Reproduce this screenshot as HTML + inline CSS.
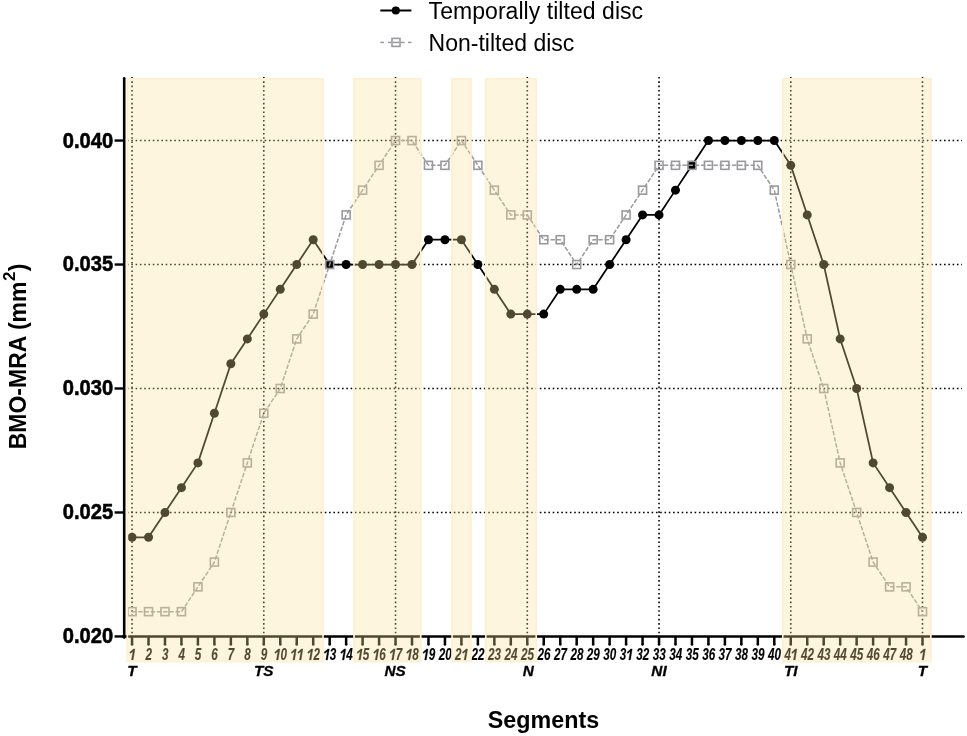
<!DOCTYPE html>
<html><head><meta charset="utf-8"><style>
html,body{margin:0;padding:0;background:#fff;overflow:hidden;}
svg{display:block;will-change:transform;}
text{font-family:"Liberation Sans",sans-serif;fill:#000;}
.xt{font-size:15.8px;font-weight:bold;font-style:italic;stroke:#000;stroke-width:0.15px;text-anchor:middle;}
.rl{font-size:15.3px;stroke:#000;stroke-width:0.3px;font-weight:bold;font-style:italic;text-anchor:middle;}
.yt{font-size:22.5px;font-weight:bold;stroke:#000;stroke-width:0.6px;text-anchor:end;}
.yti{font-size:23px;font-weight:bold;}
.xti{font-size:23.3px;font-weight:bold;text-anchor:middle;}
.lg{font-size:23px;}
</style></head>
<body><svg width="967" height="736" viewBox="0 0 967 736">
<rect x="0" y="0" width="967" height="736" fill="#fff"/>
<line x1="127" y1="140.55" x2="962" y2="140.55" stroke="#000" stroke-width="1.6" stroke-dasharray="1.6 2.7"/>
<line x1="127" y1="264.53" x2="962" y2="264.53" stroke="#000" stroke-width="1.6" stroke-dasharray="1.6 2.7"/>
<line x1="127" y1="388.50" x2="962" y2="388.50" stroke="#000" stroke-width="1.6" stroke-dasharray="1.6 2.7"/>
<line x1="127" y1="512.48" x2="962" y2="512.48" stroke="#000" stroke-width="1.6" stroke-dasharray="1.6 2.7"/>
<line x1="132.05" y1="77" x2="132.05" y2="635" stroke="#000" stroke-width="1.6" stroke-dasharray="1.6 2.7"/>
<line x1="263.79" y1="77" x2="263.79" y2="635" stroke="#000" stroke-width="1.6" stroke-dasharray="1.6 2.7"/>
<line x1="395.54" y1="77" x2="395.54" y2="635" stroke="#000" stroke-width="1.6" stroke-dasharray="1.6 2.7"/>
<line x1="527.28" y1="77" x2="527.28" y2="635" stroke="#000" stroke-width="1.6" stroke-dasharray="1.6 2.7"/>
<line x1="659.03" y1="77" x2="659.03" y2="635" stroke="#000" stroke-width="1.6" stroke-dasharray="1.6 2.7"/>
<line x1="790.77" y1="77" x2="790.77" y2="635" stroke="#000" stroke-width="1.6" stroke-dasharray="1.6 2.7"/>
<line x1="922.51" y1="77" x2="922.51" y2="635" stroke="#000" stroke-width="1.6" stroke-dasharray="1.6 2.7"/>
<line x1="124.2" y1="78.2" x2="124.2" y2="637.6" stroke="#000" stroke-width="2.6" stroke-linecap="round"/>
<line x1="123" y1="636.4" x2="963.6" y2="636.4" stroke="#000" stroke-width="2.5" stroke-linecap="round"/>
<line x1="114.6" y1="140.55" x2="124" y2="140.55" stroke="#000" stroke-width="2.4"/>
<line x1="114.6" y1="264.53" x2="124" y2="264.53" stroke="#000" stroke-width="2.4"/>
<line x1="114.6" y1="388.50" x2="124" y2="388.50" stroke="#000" stroke-width="2.4"/>
<line x1="114.6" y1="512.48" x2="124" y2="512.48" stroke="#000" stroke-width="2.4"/>
<line x1="114.6" y1="636.45" x2="124" y2="636.45" stroke="#000" stroke-width="2.4"/>
<line x1="132.05" y1="636" x2="132.05" y2="644.6" stroke="#000" stroke-width="2.5" />
<circle cx="132.05" cy="644.6" r="1.25" fill="#000"/>
<line x1="148.52" y1="636" x2="148.52" y2="644.6" stroke="#000" stroke-width="2.5" />
<circle cx="148.52" cy="644.6" r="1.25" fill="#000"/>
<line x1="164.99" y1="636" x2="164.99" y2="644.6" stroke="#000" stroke-width="2.5" />
<circle cx="164.99" cy="644.6" r="1.25" fill="#000"/>
<line x1="181.45" y1="636" x2="181.45" y2="644.6" stroke="#000" stroke-width="2.5" />
<circle cx="181.45" cy="644.6" r="1.25" fill="#000"/>
<line x1="197.92" y1="636" x2="197.92" y2="644.6" stroke="#000" stroke-width="2.5" />
<circle cx="197.92" cy="644.6" r="1.25" fill="#000"/>
<line x1="214.39" y1="636" x2="214.39" y2="644.6" stroke="#000" stroke-width="2.5" />
<circle cx="214.39" cy="644.6" r="1.25" fill="#000"/>
<line x1="230.86" y1="636" x2="230.86" y2="644.6" stroke="#000" stroke-width="2.5" />
<circle cx="230.86" cy="644.6" r="1.25" fill="#000"/>
<line x1="247.33" y1="636" x2="247.33" y2="644.6" stroke="#000" stroke-width="2.5" />
<circle cx="247.33" cy="644.6" r="1.25" fill="#000"/>
<line x1="263.79" y1="636" x2="263.79" y2="644.6" stroke="#000" stroke-width="2.5" />
<circle cx="263.79" cy="644.6" r="1.25" fill="#000"/>
<line x1="280.26" y1="636" x2="280.26" y2="644.6" stroke="#000" stroke-width="2.5" />
<circle cx="280.26" cy="644.6" r="1.25" fill="#000"/>
<line x1="296.73" y1="636" x2="296.73" y2="644.6" stroke="#000" stroke-width="2.5" />
<circle cx="296.73" cy="644.6" r="1.25" fill="#000"/>
<line x1="313.20" y1="636" x2="313.20" y2="644.6" stroke="#000" stroke-width="2.5" />
<circle cx="313.20" cy="644.6" r="1.25" fill="#000"/>
<line x1="329.67" y1="636" x2="329.67" y2="644.6" stroke="#000" stroke-width="2.5" />
<circle cx="329.67" cy="644.6" r="1.25" fill="#000"/>
<line x1="346.13" y1="636" x2="346.13" y2="644.6" stroke="#000" stroke-width="2.5" />
<circle cx="346.13" cy="644.6" r="1.25" fill="#000"/>
<line x1="362.60" y1="636" x2="362.60" y2="644.6" stroke="#000" stroke-width="2.5" />
<circle cx="362.60" cy="644.6" r="1.25" fill="#000"/>
<line x1="379.07" y1="636" x2="379.07" y2="644.6" stroke="#000" stroke-width="2.5" />
<circle cx="379.07" cy="644.6" r="1.25" fill="#000"/>
<line x1="395.54" y1="636" x2="395.54" y2="644.6" stroke="#000" stroke-width="2.5" />
<circle cx="395.54" cy="644.6" r="1.25" fill="#000"/>
<line x1="412.01" y1="636" x2="412.01" y2="644.6" stroke="#000" stroke-width="2.5" />
<circle cx="412.01" cy="644.6" r="1.25" fill="#000"/>
<line x1="428.47" y1="636" x2="428.47" y2="644.6" stroke="#000" stroke-width="2.5" />
<circle cx="428.47" cy="644.6" r="1.25" fill="#000"/>
<line x1="444.94" y1="636" x2="444.94" y2="644.6" stroke="#000" stroke-width="2.5" />
<circle cx="444.94" cy="644.6" r="1.25" fill="#000"/>
<line x1="461.41" y1="636" x2="461.41" y2="644.6" stroke="#000" stroke-width="2.5" />
<circle cx="461.41" cy="644.6" r="1.25" fill="#000"/>
<line x1="477.88" y1="636" x2="477.88" y2="644.6" stroke="#000" stroke-width="2.5" />
<circle cx="477.88" cy="644.6" r="1.25" fill="#000"/>
<line x1="494.35" y1="636" x2="494.35" y2="644.6" stroke="#000" stroke-width="2.5" />
<circle cx="494.35" cy="644.6" r="1.25" fill="#000"/>
<line x1="510.81" y1="636" x2="510.81" y2="644.6" stroke="#000" stroke-width="2.5" />
<circle cx="510.81" cy="644.6" r="1.25" fill="#000"/>
<line x1="527.28" y1="636" x2="527.28" y2="644.6" stroke="#000" stroke-width="2.5" />
<circle cx="527.28" cy="644.6" r="1.25" fill="#000"/>
<line x1="543.75" y1="636" x2="543.75" y2="644.6" stroke="#000" stroke-width="2.5" />
<circle cx="543.75" cy="644.6" r="1.25" fill="#000"/>
<line x1="560.22" y1="636" x2="560.22" y2="644.6" stroke="#000" stroke-width="2.5" />
<circle cx="560.22" cy="644.6" r="1.25" fill="#000"/>
<line x1="576.69" y1="636" x2="576.69" y2="644.6" stroke="#000" stroke-width="2.5" />
<circle cx="576.69" cy="644.6" r="1.25" fill="#000"/>
<line x1="593.15" y1="636" x2="593.15" y2="644.6" stroke="#000" stroke-width="2.5" />
<circle cx="593.15" cy="644.6" r="1.25" fill="#000"/>
<line x1="609.62" y1="636" x2="609.62" y2="644.6" stroke="#000" stroke-width="2.5" />
<circle cx="609.62" cy="644.6" r="1.25" fill="#000"/>
<line x1="626.09" y1="636" x2="626.09" y2="644.6" stroke="#000" stroke-width="2.5" />
<circle cx="626.09" cy="644.6" r="1.25" fill="#000"/>
<line x1="642.56" y1="636" x2="642.56" y2="644.6" stroke="#000" stroke-width="2.5" />
<circle cx="642.56" cy="644.6" r="1.25" fill="#000"/>
<line x1="659.03" y1="636" x2="659.03" y2="644.6" stroke="#000" stroke-width="2.5" />
<circle cx="659.03" cy="644.6" r="1.25" fill="#000"/>
<line x1="675.49" y1="636" x2="675.49" y2="644.6" stroke="#000" stroke-width="2.5" />
<circle cx="675.49" cy="644.6" r="1.25" fill="#000"/>
<line x1="691.96" y1="636" x2="691.96" y2="644.6" stroke="#000" stroke-width="2.5" />
<circle cx="691.96" cy="644.6" r="1.25" fill="#000"/>
<line x1="708.43" y1="636" x2="708.43" y2="644.6" stroke="#000" stroke-width="2.5" />
<circle cx="708.43" cy="644.6" r="1.25" fill="#000"/>
<line x1="724.90" y1="636" x2="724.90" y2="644.6" stroke="#000" stroke-width="2.5" />
<circle cx="724.90" cy="644.6" r="1.25" fill="#000"/>
<line x1="741.37" y1="636" x2="741.37" y2="644.6" stroke="#000" stroke-width="2.5" />
<circle cx="741.37" cy="644.6" r="1.25" fill="#000"/>
<line x1="757.83" y1="636" x2="757.83" y2="644.6" stroke="#000" stroke-width="2.5" />
<circle cx="757.83" cy="644.6" r="1.25" fill="#000"/>
<line x1="774.30" y1="636" x2="774.30" y2="644.6" stroke="#000" stroke-width="2.5" />
<circle cx="774.30" cy="644.6" r="1.25" fill="#000"/>
<line x1="790.77" y1="636" x2="790.77" y2="644.6" stroke="#000" stroke-width="2.5" />
<circle cx="790.77" cy="644.6" r="1.25" fill="#000"/>
<line x1="807.24" y1="636" x2="807.24" y2="644.6" stroke="#000" stroke-width="2.5" />
<circle cx="807.24" cy="644.6" r="1.25" fill="#000"/>
<line x1="823.71" y1="636" x2="823.71" y2="644.6" stroke="#000" stroke-width="2.5" />
<circle cx="823.71" cy="644.6" r="1.25" fill="#000"/>
<line x1="840.17" y1="636" x2="840.17" y2="644.6" stroke="#000" stroke-width="2.5" />
<circle cx="840.17" cy="644.6" r="1.25" fill="#000"/>
<line x1="856.64" y1="636" x2="856.64" y2="644.6" stroke="#000" stroke-width="2.5" />
<circle cx="856.64" cy="644.6" r="1.25" fill="#000"/>
<line x1="873.11" y1="636" x2="873.11" y2="644.6" stroke="#000" stroke-width="2.5" />
<circle cx="873.11" cy="644.6" r="1.25" fill="#000"/>
<line x1="889.58" y1="636" x2="889.58" y2="644.6" stroke="#000" stroke-width="2.5" />
<circle cx="889.58" cy="644.6" r="1.25" fill="#000"/>
<line x1="906.05" y1="636" x2="906.05" y2="644.6" stroke="#000" stroke-width="2.5" />
<circle cx="906.05" cy="644.6" r="1.25" fill="#000"/>
<line x1="922.51" y1="636" x2="922.51" y2="644.6" stroke="#000" stroke-width="2.5" />
<circle cx="922.51" cy="644.6" r="1.25" fill="#000"/>
<polyline points="132.05,537.27 148.52,537.27 164.99,512.48 181.45,487.68 197.92,462.89 214.39,413.30 230.86,363.71 247.33,338.91 263.79,314.12 280.26,289.32 296.73,264.53 313.20,239.73 329.67,264.53 346.13,264.53 362.60,264.53 379.07,264.53 395.54,264.53 412.01,264.53 428.47,239.73 444.94,239.73 461.41,239.73 477.88,264.53 494.35,289.32 510.81,314.12 527.28,314.12 543.75,314.12 560.22,289.32 576.69,289.32 593.15,289.32 609.62,264.53 626.09,239.73 642.56,214.94 659.03,214.94 675.49,190.14 691.96,165.35 708.43,140.55 724.90,140.55 741.37,140.55 757.83,140.55 774.30,140.55 790.77,165.35 807.24,214.94 823.71,264.53 840.17,338.91 856.64,388.50 873.11,462.89 889.58,487.68 906.05,512.48 922.51,537.27" fill="none" stroke="#000" stroke-width="1.75" stroke-linejoin="round"/>
<circle cx="132.05" cy="537.27" r="4.5" fill="#000"/>
<circle cx="148.52" cy="537.27" r="4.5" fill="#000"/>
<circle cx="164.99" cy="512.48" r="4.5" fill="#000"/>
<circle cx="181.45" cy="487.68" r="4.5" fill="#000"/>
<circle cx="197.92" cy="462.89" r="4.5" fill="#000"/>
<circle cx="214.39" cy="413.30" r="4.5" fill="#000"/>
<circle cx="230.86" cy="363.71" r="4.5" fill="#000"/>
<circle cx="247.33" cy="338.91" r="4.5" fill="#000"/>
<circle cx="263.79" cy="314.12" r="4.5" fill="#000"/>
<circle cx="280.26" cy="289.32" r="4.5" fill="#000"/>
<circle cx="296.73" cy="264.53" r="4.5" fill="#000"/>
<circle cx="313.20" cy="239.73" r="4.5" fill="#000"/>
<circle cx="329.67" cy="264.53" r="4.5" fill="#000"/>
<circle cx="346.13" cy="264.53" r="4.5" fill="#000"/>
<circle cx="362.60" cy="264.53" r="4.5" fill="#000"/>
<circle cx="379.07" cy="264.53" r="4.5" fill="#000"/>
<circle cx="395.54" cy="264.53" r="4.5" fill="#000"/>
<circle cx="412.01" cy="264.53" r="4.5" fill="#000"/>
<circle cx="428.47" cy="239.73" r="4.5" fill="#000"/>
<circle cx="444.94" cy="239.73" r="4.5" fill="#000"/>
<circle cx="461.41" cy="239.73" r="4.5" fill="#000"/>
<circle cx="477.88" cy="264.53" r="4.5" fill="#000"/>
<circle cx="494.35" cy="289.32" r="4.5" fill="#000"/>
<circle cx="510.81" cy="314.12" r="4.5" fill="#000"/>
<circle cx="527.28" cy="314.12" r="4.5" fill="#000"/>
<circle cx="543.75" cy="314.12" r="4.5" fill="#000"/>
<circle cx="560.22" cy="289.32" r="4.5" fill="#000"/>
<circle cx="576.69" cy="289.32" r="4.5" fill="#000"/>
<circle cx="593.15" cy="289.32" r="4.5" fill="#000"/>
<circle cx="609.62" cy="264.53" r="4.5" fill="#000"/>
<circle cx="626.09" cy="239.73" r="4.5" fill="#000"/>
<circle cx="642.56" cy="214.94" r="4.5" fill="#000"/>
<circle cx="659.03" cy="214.94" r="4.5" fill="#000"/>
<circle cx="675.49" cy="190.14" r="4.5" fill="#000"/>
<circle cx="691.96" cy="165.35" r="4.5" fill="#000"/>
<circle cx="708.43" cy="140.55" r="4.5" fill="#000"/>
<circle cx="724.90" cy="140.55" r="4.5" fill="#000"/>
<circle cx="741.37" cy="140.55" r="4.5" fill="#000"/>
<circle cx="757.83" cy="140.55" r="4.5" fill="#000"/>
<circle cx="774.30" cy="140.55" r="4.5" fill="#000"/>
<circle cx="790.77" cy="165.35" r="4.5" fill="#000"/>
<circle cx="807.24" cy="214.94" r="4.5" fill="#000"/>
<circle cx="823.71" cy="264.53" r="4.5" fill="#000"/>
<circle cx="840.17" cy="338.91" r="4.5" fill="#000"/>
<circle cx="856.64" cy="388.50" r="4.5" fill="#000"/>
<circle cx="873.11" cy="462.89" r="4.5" fill="#000"/>
<circle cx="889.58" cy="487.68" r="4.5" fill="#000"/>
<circle cx="906.05" cy="512.48" r="4.5" fill="#000"/>
<circle cx="922.51" cy="537.27" r="4.5" fill="#000"/>
<polyline points="132.05,611.65 148.52,611.65 164.99,611.65 181.45,611.65 197.92,586.86 214.39,562.07 230.86,512.48 247.33,462.89 263.79,413.30 280.26,388.50 296.73,338.91 313.20,314.12 329.67,264.53 346.13,214.94 362.60,190.14 379.07,165.35 395.54,140.55 412.01,140.55 428.47,165.35 444.94,165.35 461.41,140.55 477.88,165.35 494.35,190.14 510.81,214.94 527.28,214.94 543.75,239.73 560.22,239.73 576.69,264.53 593.15,239.73 609.62,239.73 626.09,214.94 642.56,190.14 659.03,165.35 675.49,165.35 691.96,165.35 708.43,165.35 724.90,165.35 741.37,165.35 757.83,165.35 774.30,190.14 790.77,264.53 807.24,338.91 823.71,388.50 840.17,462.89 856.64,512.48 873.11,562.07 889.58,586.86 906.05,586.86 922.51,611.65" fill="none" stroke="#9a9a9e" stroke-width="1.5" stroke-dasharray="4.5 1.7"/>
<rect x="128.05" y="607.65" width="8" height="8" fill="none" stroke="#9a9a9e" stroke-width="1.6"/>
<rect x="144.52" y="607.65" width="8" height="8" fill="none" stroke="#9a9a9e" stroke-width="1.6"/>
<rect x="160.99" y="607.65" width="8" height="8" fill="none" stroke="#9a9a9e" stroke-width="1.6"/>
<rect x="177.45" y="607.65" width="8" height="8" fill="none" stroke="#9a9a9e" stroke-width="1.6"/>
<rect x="193.92" y="582.86" width="8" height="8" fill="none" stroke="#9a9a9e" stroke-width="1.6"/>
<rect x="210.39" y="558.07" width="8" height="8" fill="none" stroke="#9a9a9e" stroke-width="1.6"/>
<rect x="226.86" y="508.48" width="8" height="8" fill="none" stroke="#9a9a9e" stroke-width="1.6"/>
<rect x="243.33" y="458.89" width="8" height="8" fill="none" stroke="#9a9a9e" stroke-width="1.6"/>
<rect x="259.79" y="409.30" width="8" height="8" fill="none" stroke="#9a9a9e" stroke-width="1.6"/>
<rect x="276.26" y="384.50" width="8" height="8" fill="none" stroke="#9a9a9e" stroke-width="1.6"/>
<rect x="292.73" y="334.91" width="8" height="8" fill="none" stroke="#9a9a9e" stroke-width="1.6"/>
<rect x="309.20" y="310.12" width="8" height="8" fill="none" stroke="#9a9a9e" stroke-width="1.6"/>
<rect x="325.67" y="260.53" width="8" height="8" fill="none" stroke="#9a9a9e" stroke-width="1.6"/>
<rect x="342.13" y="210.94" width="8" height="8" fill="none" stroke="#9a9a9e" stroke-width="1.6"/>
<rect x="358.60" y="186.14" width="8" height="8" fill="none" stroke="#9a9a9e" stroke-width="1.6"/>
<rect x="375.07" y="161.35" width="8" height="8" fill="none" stroke="#9a9a9e" stroke-width="1.6"/>
<rect x="391.54" y="136.55" width="8" height="8" fill="none" stroke="#9a9a9e" stroke-width="1.6"/>
<rect x="408.01" y="136.55" width="8" height="8" fill="none" stroke="#9a9a9e" stroke-width="1.6"/>
<rect x="424.47" y="161.35" width="8" height="8" fill="none" stroke="#9a9a9e" stroke-width="1.6"/>
<rect x="440.94" y="161.35" width="8" height="8" fill="none" stroke="#9a9a9e" stroke-width="1.6"/>
<rect x="457.41" y="136.55" width="8" height="8" fill="none" stroke="#9a9a9e" stroke-width="1.6"/>
<rect x="473.88" y="161.35" width="8" height="8" fill="none" stroke="#9a9a9e" stroke-width="1.6"/>
<rect x="490.35" y="186.14" width="8" height="8" fill="none" stroke="#9a9a9e" stroke-width="1.6"/>
<rect x="506.81" y="210.94" width="8" height="8" fill="none" stroke="#9a9a9e" stroke-width="1.6"/>
<rect x="523.28" y="210.94" width="8" height="8" fill="none" stroke="#9a9a9e" stroke-width="1.6"/>
<rect x="539.75" y="235.73" width="8" height="8" fill="none" stroke="#9a9a9e" stroke-width="1.6"/>
<rect x="556.22" y="235.73" width="8" height="8" fill="none" stroke="#9a9a9e" stroke-width="1.6"/>
<rect x="572.69" y="260.53" width="8" height="8" fill="none" stroke="#9a9a9e" stroke-width="1.6"/>
<rect x="589.15" y="235.73" width="8" height="8" fill="none" stroke="#9a9a9e" stroke-width="1.6"/>
<rect x="605.62" y="235.73" width="8" height="8" fill="none" stroke="#9a9a9e" stroke-width="1.6"/>
<rect x="622.09" y="210.94" width="8" height="8" fill="none" stroke="#9a9a9e" stroke-width="1.6"/>
<rect x="638.56" y="186.14" width="8" height="8" fill="none" stroke="#9a9a9e" stroke-width="1.6"/>
<rect x="655.03" y="161.35" width="8" height="8" fill="none" stroke="#9a9a9e" stroke-width="1.6"/>
<rect x="671.49" y="161.35" width="8" height="8" fill="none" stroke="#9a9a9e" stroke-width="1.6"/>
<rect x="687.96" y="161.35" width="8" height="8" fill="none" stroke="#9a9a9e" stroke-width="1.6"/>
<rect x="704.43" y="161.35" width="8" height="8" fill="none" stroke="#9a9a9e" stroke-width="1.6"/>
<rect x="720.90" y="161.35" width="8" height="8" fill="none" stroke="#9a9a9e" stroke-width="1.6"/>
<rect x="737.37" y="161.35" width="8" height="8" fill="none" stroke="#9a9a9e" stroke-width="1.6"/>
<rect x="753.83" y="161.35" width="8" height="8" fill="none" stroke="#9a9a9e" stroke-width="1.6"/>
<rect x="770.30" y="186.14" width="8" height="8" fill="none" stroke="#9a9a9e" stroke-width="1.6"/>
<rect x="786.77" y="260.53" width="8" height="8" fill="none" stroke="#9a9a9e" stroke-width="1.6"/>
<rect x="803.24" y="334.91" width="8" height="8" fill="none" stroke="#9a9a9e" stroke-width="1.6"/>
<rect x="819.71" y="384.50" width="8" height="8" fill="none" stroke="#9a9a9e" stroke-width="1.6"/>
<rect x="836.17" y="458.89" width="8" height="8" fill="none" stroke="#9a9a9e" stroke-width="1.6"/>
<rect x="852.64" y="508.48" width="8" height="8" fill="none" stroke="#9a9a9e" stroke-width="1.6"/>
<rect x="869.11" y="558.07" width="8" height="8" fill="none" stroke="#9a9a9e" stroke-width="1.6"/>
<rect x="885.58" y="582.86" width="8" height="8" fill="none" stroke="#9a9a9e" stroke-width="1.6"/>
<rect x="902.05" y="582.86" width="8" height="8" fill="none" stroke="#9a9a9e" stroke-width="1.6"/>
<rect x="918.51" y="607.65" width="8" height="8" fill="none" stroke="#9a9a9e" stroke-width="1.6"/>
<text transform="translate(148.72,659.9) scale(0.74,1)" class="xt">2</text>
<text transform="translate(165.19,659.9) scale(0.74,1)" class="xt">3</text>
<text transform="translate(181.65,659.9) scale(0.74,1)" class="xt">4</text>
<text transform="translate(198.12,659.9) scale(0.74,1)" class="xt">5</text>
<text transform="translate(214.59,659.9) scale(0.74,1)" class="xt">6</text>
<text transform="translate(231.06,659.9) scale(0.74,1)" class="xt">7</text>
<text transform="translate(247.53,659.9) scale(0.74,1)" class="xt">8</text>
<text transform="translate(263.99,659.9) scale(0.74,1)" class="xt">9</text>
<text transform="translate(283.71,659.9) scale(0.74,1)" class="xt">0</text>
<text transform="translate(316.65,659.9) scale(0.74,1)" class="xt">2</text>
<text transform="translate(333.12,659.9) scale(0.74,1)" class="xt">3</text>
<text transform="translate(349.58,659.9) scale(0.74,1)" class="xt">4</text>
<text transform="translate(366.05,659.9) scale(0.74,1)" class="xt">5</text>
<text transform="translate(382.52,659.9) scale(0.74,1)" class="xt">6</text>
<text transform="translate(398.99,659.9) scale(0.74,1)" class="xt">7</text>
<text transform="translate(415.46,659.9) scale(0.74,1)" class="xt">8</text>
<text transform="translate(431.92,659.9) scale(0.74,1)" class="xt">9</text>
<text transform="translate(441.89,659.9) scale(0.74,1)" class="xt">2</text>
<text transform="translate(448.39,659.9) scale(0.74,1)" class="xt">0</text>
<text transform="translate(458.36,659.9) scale(0.74,1)" class="xt">2</text>
<text transform="translate(474.83,659.9) scale(0.74,1)" class="xt">2</text>
<text transform="translate(481.33,659.9) scale(0.74,1)" class="xt">2</text>
<text transform="translate(491.30,659.9) scale(0.74,1)" class="xt">2</text>
<text transform="translate(497.80,659.9) scale(0.74,1)" class="xt">3</text>
<text transform="translate(507.76,659.9) scale(0.74,1)" class="xt">2</text>
<text transform="translate(514.26,659.9) scale(0.74,1)" class="xt">4</text>
<text transform="translate(524.23,659.9) scale(0.74,1)" class="xt">2</text>
<text transform="translate(530.73,659.9) scale(0.74,1)" class="xt">5</text>
<text transform="translate(540.70,659.9) scale(0.74,1)" class="xt">2</text>
<text transform="translate(547.20,659.9) scale(0.74,1)" class="xt">6</text>
<text transform="translate(557.17,659.9) scale(0.74,1)" class="xt">2</text>
<text transform="translate(563.67,659.9) scale(0.74,1)" class="xt">7</text>
<text transform="translate(573.64,659.9) scale(0.74,1)" class="xt">2</text>
<text transform="translate(580.14,659.9) scale(0.74,1)" class="xt">8</text>
<text transform="translate(590.10,659.9) scale(0.74,1)" class="xt">2</text>
<text transform="translate(596.60,659.9) scale(0.74,1)" class="xt">9</text>
<text transform="translate(606.57,659.9) scale(0.74,1)" class="xt">3</text>
<text transform="translate(613.07,659.9) scale(0.74,1)" class="xt">0</text>
<text transform="translate(623.04,659.9) scale(0.74,1)" class="xt">3</text>
<text transform="translate(639.51,659.9) scale(0.74,1)" class="xt">3</text>
<text transform="translate(646.01,659.9) scale(0.74,1)" class="xt">2</text>
<text transform="translate(655.98,659.9) scale(0.74,1)" class="xt">3</text>
<text transform="translate(662.48,659.9) scale(0.74,1)" class="xt">3</text>
<text transform="translate(672.44,659.9) scale(0.74,1)" class="xt">3</text>
<text transform="translate(678.94,659.9) scale(0.74,1)" class="xt">4</text>
<text transform="translate(688.91,659.9) scale(0.74,1)" class="xt">3</text>
<text transform="translate(695.41,659.9) scale(0.74,1)" class="xt">5</text>
<text transform="translate(705.38,659.9) scale(0.74,1)" class="xt">3</text>
<text transform="translate(711.88,659.9) scale(0.74,1)" class="xt">6</text>
<text transform="translate(721.85,659.9) scale(0.74,1)" class="xt">3</text>
<text transform="translate(728.35,659.9) scale(0.74,1)" class="xt">7</text>
<text transform="translate(738.32,659.9) scale(0.74,1)" class="xt">3</text>
<text transform="translate(744.82,659.9) scale(0.74,1)" class="xt">8</text>
<text transform="translate(754.78,659.9) scale(0.74,1)" class="xt">3</text>
<text transform="translate(761.28,659.9) scale(0.74,1)" class="xt">9</text>
<text transform="translate(771.25,659.9) scale(0.74,1)" class="xt">4</text>
<text transform="translate(777.75,659.9) scale(0.74,1)" class="xt">0</text>
<text transform="translate(787.72,659.9) scale(0.74,1)" class="xt">4</text>
<text transform="translate(804.19,659.9) scale(0.74,1)" class="xt">4</text>
<text transform="translate(810.69,659.9) scale(0.74,1)" class="xt">2</text>
<text transform="translate(820.66,659.9) scale(0.74,1)" class="xt">4</text>
<text transform="translate(827.16,659.9) scale(0.74,1)" class="xt">3</text>
<text transform="translate(837.12,659.9) scale(0.74,1)" class="xt">4</text>
<text transform="translate(843.62,659.9) scale(0.74,1)" class="xt">4</text>
<text transform="translate(853.59,659.9) scale(0.74,1)" class="xt">4</text>
<text transform="translate(860.09,659.9) scale(0.74,1)" class="xt">5</text>
<text transform="translate(870.06,659.9) scale(0.74,1)" class="xt">4</text>
<text transform="translate(876.56,659.9) scale(0.74,1)" class="xt">6</text>
<text transform="translate(886.53,659.9) scale(0.74,1)" class="xt">4</text>
<text transform="translate(893.03,659.9) scale(0.74,1)" class="xt">7</text>
<text transform="translate(903.00,659.9) scale(0.74,1)" class="xt">4</text>
<text transform="translate(909.50,659.9) scale(0.74,1)" class="xt">8</text>
<path d="M133.45 648.90 L134.95 648.90 L133.20 659.90 L131.45 659.90 L132.95 651.60 L130.35 653.50 L129.75 652.20Z M278.41 648.90 L279.91 648.90 L278.16 659.90 L276.41 659.90 L277.91 651.60 L275.31 653.50 L274.71 652.20Z M294.88 648.90 L296.38 648.90 L294.63 659.90 L292.88 659.90 L294.38 651.60 L291.78 653.50 L291.18 652.20Z M301.38 648.90 L302.88 648.90 L301.13 659.90 L299.38 659.90 L300.88 651.60 L298.28 653.50 L297.68 652.20Z M311.35 648.90 L312.85 648.90 L311.10 659.90 L309.35 659.90 L310.85 651.60 L308.25 653.50 L307.65 652.20Z M327.82 648.90 L329.32 648.90 L327.57 659.90 L325.82 659.90 L327.32 651.60 L324.72 653.50 L324.12 652.20Z M344.28 648.90 L345.78 648.90 L344.03 659.90 L342.28 659.90 L343.78 651.60 L341.18 653.50 L340.58 652.20Z M360.75 648.90 L362.25 648.90 L360.50 659.90 L358.75 659.90 L360.25 651.60 L357.65 653.50 L357.05 652.20Z M377.22 648.90 L378.72 648.90 L376.97 659.90 L375.22 659.90 L376.72 651.60 L374.12 653.50 L373.52 652.20Z M393.69 648.90 L395.19 648.90 L393.44 659.90 L391.69 659.90 L393.19 651.60 L390.59 653.50 L389.99 652.20Z M410.16 648.90 L411.66 648.90 L409.91 659.90 L408.16 659.90 L409.66 651.60 L407.06 653.50 L406.46 652.20Z M426.62 648.90 L428.12 648.90 L426.37 659.90 L424.62 659.90 L426.12 651.60 L423.52 653.50 L422.92 652.20Z M466.06 648.90 L467.56 648.90 L465.81 659.90 L464.06 659.90 L465.56 651.60 L462.96 653.50 L462.36 652.20Z M630.74 648.90 L632.24 648.90 L630.49 659.90 L628.74 659.90 L630.24 651.60 L627.64 653.50 L627.04 652.20Z M795.42 648.90 L796.92 648.90 L795.17 659.90 L793.42 659.90 L794.92 651.60 L792.32 653.50 L791.72 652.20Z M923.91 648.90 L925.41 648.90 L923.66 659.90 L921.91 659.90 L923.41 651.60 L920.81 653.50 L920.21 652.20Z" fill="#000" stroke="#000" stroke-width="0.3" stroke-linejoin="round"/>
<rect x="126.6" y="78" width="197.20" height="584.20" fill="rgb(250,224,150)" fill-opacity="0.32"/>
<rect x="127.40" y="78.8" width="195.60" height="582.60" fill="none" stroke="rgb(253,240,208)" stroke-width="1.6"/>
<rect x="353.2" y="78" width="68.30" height="584.20" fill="rgb(250,224,150)" fill-opacity="0.32"/>
<rect x="354.00" y="78.8" width="66.70" height="582.60" fill="none" stroke="rgb(253,240,208)" stroke-width="1.6"/>
<rect x="451.3" y="78" width="20.40" height="584.20" fill="rgb(250,224,150)" fill-opacity="0.32"/>
<rect x="452.10" y="78.8" width="18.80" height="582.60" fill="none" stroke="rgb(253,240,208)" stroke-width="1.6"/>
<rect x="485" y="78" width="52.00" height="584.20" fill="rgb(250,224,150)" fill-opacity="0.32"/>
<rect x="485.80" y="78.8" width="50.40" height="582.60" fill="none" stroke="rgb(253,240,208)" stroke-width="1.6"/>
<rect x="782.0" y="78" width="149.60" height="584.20" fill="rgb(250,224,150)" fill-opacity="0.32"/>
<rect x="782.80" y="78.8" width="148.00" height="582.60" fill="none" stroke="rgb(253,240,208)" stroke-width="1.6"/>
<text x="132.05" y="675.7" class="rl">T</text>
<text x="263.79" y="675.7" class="rl">TS</text>
<text x="395.14" y="675.7" class="rl">NS</text>
<text x="528.28" y="675.7" class="rl">N</text>
<text x="659.03" y="675.7" class="rl">NI</text>
<text x="790.77" y="675.7" class="rl">TI</text>
<text x="922.51" y="675.7" class="rl">T</text>
<text transform="translate(113.1,147.50) scale(0.895,1)" class="yt">0.040</text>
<text transform="translate(113.1,271.48) scale(0.895,1)" class="yt">0.035</text>
<text transform="translate(113.1,395.45) scale(0.895,1)" class="yt">0.030</text>
<text transform="translate(113.1,519.43) scale(0.895,1)" class="yt">0.025</text>
<text transform="translate(113.1,643.40) scale(0.895,1)" class="yt">0.020</text>
<text transform="translate(25.5,449.3) rotate(-90)" class="yti">BMO-MRA (mm<tspan dy="-10.5" dx="0.4" font-size="17" font-weight="bold">2</tspan><tspan dy="10.5" dx="0.3">)</tspan></text>
<text x="543.5" y="728" class="xti">Segments</text>
<line x1="380.3" y1="10.5" x2="411.4" y2="10.5" stroke="#000" stroke-width="2"/>
<circle cx="395.8" cy="10.5" r="4.1" fill="#000"/>
<text x="428.6" y="18.5" class="lg" letter-spacing="0.05">Temporally tilted disc</text>
<line x1="380.3" y1="42.4" x2="384" y2="42.4" stroke="#9a9a9e" stroke-width="1.5"/>
<line x1="388" y1="42.4" x2="391.2" y2="42.4" stroke="#9a9a9e" stroke-width="1.5"/>
<line x1="400.8" y1="42.4" x2="404.5" y2="42.4" stroke="#9a9a9e" stroke-width="1.5"/>
<line x1="408" y1="42.4" x2="411.4" y2="42.4" stroke="#9a9a9e" stroke-width="1.5"/>
<line x1="393" y1="42.4" x2="399" y2="42.4" stroke="#9a9a9e" stroke-width="1.5"/>
<rect x="392" y="38.4" width="8" height="8" fill="none" stroke="#9a9a9e" stroke-width="1.6"/>
<text x="428.6" y="50.5" class="lg">Non-tilted disc</text>
</svg></body></html>
